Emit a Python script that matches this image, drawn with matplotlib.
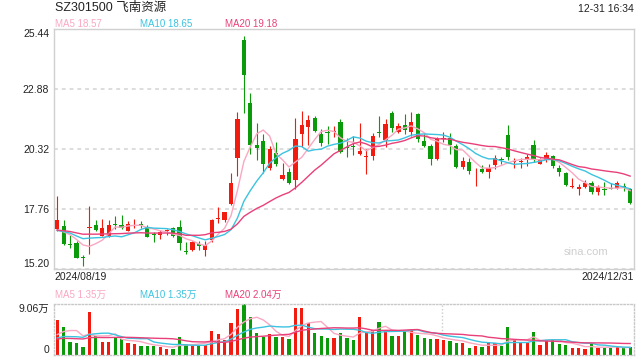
import numpy as np
import pandas as pd
import matplotlib
matplotlib.use("Agg")
import matplotlib.pyplot as plt

plt.rcParams["font.family"] = ["Liberation Sans", "Noto Sans CJK SC"]

# daily OHLC, 2024/08/19 .. 2024/12/31
opens = [16.91, 17.04, 16.27, 16.31, 15.70, 16.96, 17.08, 16.62, 16.59, 17.12,
         17.06, 16.84, 17.06, 17.11, 17.01, 16.69, 16.67, 16.81, 16.94, 16.99,
         15.97, 16.03, 16.27, 16.03, 16.42, 17.33, 17.29, 17.97, 19.95, 24.97,
         22.28, 20.49, 20.66, 19.52, 20.15, 19.04, 19.32, 19.01, 20.97, 21.26,
         21.63, 20.95, 21.05, 21.05, 21.48, 20.42, 20.45, 20.12, 19.99, 20.04,
         21.05, 20.72, 21.86, 21.06, 21.34, 21.03, 21.81, 20.66, 20.45, 19.89,
         20.75, 20.78, 20.43, 19.55, 19.78, 19.41, 19.47, 19.35, 19.63, 19.90,
         20.90, 19.76, 19.76, 19.89, 20.49, 19.70, 19.86, 20.02, 19.50, 19.29,
         18.72, 18.62, 18.70, 18.88, 18.48, 18.61, 18.65, 18.67, 18.74, 18.60]
highs = [18.30, 17.29, 16.65, 16.41, 15.80, 17.90, 17.31, 17.33, 17.28, 17.45,
         17.50, 17.26, 17.33, 17.25, 17.08, 16.76, 16.86, 16.91, 16.98, 17.31,
         16.34, 16.41, 16.41, 16.38, 17.33, 17.86, 17.65, 19.30, 21.91, 25.16,
         22.71, 21.44, 20.95, 20.43, 20.60, 19.72, 19.50, 21.66, 21.96, 21.77,
         21.71, 21.17, 21.29, 21.29, 21.60, 20.77, 20.89, 21.43, 20.32, 21.00,
         21.71, 21.60, 21.94, 21.43, 21.81, 21.88, 21.84, 20.96, 20.53, 20.82,
         21.06, 21.00, 20.52, 19.96, 19.94, 19.51, 19.64, 19.68, 20.06, 19.96,
         21.33, 19.92, 19.92, 20.11, 20.71, 19.92, 20.21, 20.06, 19.65, 19.36,
         19.07, 18.81, 18.98, 18.97, 18.77, 18.91, 18.85, 18.95, 18.88, 18.65]
lows = [16.84, 16.24, 16.11, 15.66, 15.34, 15.84, 16.81, 16.59, 16.57, 16.91,
        16.91, 16.81, 16.94, 16.96, 16.55, 16.37, 16.48, 16.65, 16.57, 16.01,
        15.83, 15.95, 16.03, 15.77, 16.37, 17.16, 17.19, 17.93, 19.18, 21.86,
        20.11, 19.87, 19.30, 19.44, 19.58, 18.98, 18.81, 18.61, 20.39, 20.49,
        21.03, 20.46, 20.53, 20.82, 20.15, 19.99, 20.06, 20.06, 19.25, 19.87,
        20.82, 20.39, 21.06, 21.00, 20.96, 20.89, 20.63, 20.39, 19.65, 19.87,
        20.60, 20.09, 19.52, 19.47, 19.27, 18.76, 19.30, 19.07, 19.46, 19.67,
        19.86, 19.52, 19.49, 19.60, 19.75, 19.67, 19.77, 19.52, 19.17, 18.74,
        18.65, 18.36, 18.65, 18.42, 18.36, 18.36, 18.60, 18.62, 18.52, 17.98]
closes = [17.29, 16.27, 16.22, 15.68, 15.67, 16.99, 16.86, 16.95, 17.06, 17.09,
          16.95, 17.13, 17.09, 17.06, 16.58, 16.67, 16.76, 16.84, 16.59, 16.32,
          15.94, 16.34, 16.17, 16.22, 17.30, 17.38, 17.62, 18.87, 21.60, 23.49,
          20.49, 20.38, 19.69, 20.32, 19.68, 19.21, 18.87, 20.75, 21.34, 21.56,
          21.10, 20.58, 21.02, 21.07, 20.20, 20.36, 20.39, 20.25, 20.02, 20.87,
          21.02, 21.39, 21.23, 21.32, 21.13, 21.46, 20.75, 20.43, 19.89, 20.75,
          20.78, 20.49, 19.55, 19.82, 19.40, 19.44, 19.35, 19.51, 19.92, 19.87,
          19.99, 19.79, 19.79, 19.96, 19.86, 19.89, 20.06, 19.60, 19.34, 18.78,
          18.75, 18.70, 18.88, 18.48, 18.70, 18.58, 18.62, 18.85, 18.64, 18.02]
volumes = [61600, 48900, 23600, 21700, 14500, 76100, 33200, 23600, 23600, 32000,
           28400, 21700, 19900, 16300, 16300, 16300, 14500, 10900, 10900, 32600,
           19900, 16300, 18100, 18100, 43500, 38100, 27200, 56200, 81500, 90600,
           67000, 39900, 32600, 38100, 32600, 32600, 29000, 83400, 83400, 56200,
           39900, 34400, 30800, 30800, 39900, 30800, 27200, 67000, 41700, 44100,
           58000, 44100, 34400, 34400, 42900, 45300, 36200, 30800, 29000, 29000,
           27200, 25400, 21700, 21700, 12700, 16300, 14500, 21700, 20500, 16300,
           48900, 27200, 21700, 21700, 41700, 18100, 27200, 27200, 19900, 18100,
           12700, 12700, 10900, 20500, 12700, 12700, 12700, 14500, 12700, 14500]

# sessions before the window, only used to seed the moving averages
prior_closes = [16.80, 16.92, 16.85, 16.78, 16.95, 16.88, 16.82, 16.90, 16.97, 16.84,
                16.79, 16.86, 16.93, 16.81, 16.76, 16.70, 16.82, 16.68, 16.85]
prior_volumes = [25000, 28000, 31000, 24000, 27000, 26000, 29000, 23000, 27000, 26000,
                 22000, 26000, 24000, 25000, 24100, 21300, 14700, 21700, 61600]

# values shown in the legends of the original
price_ma_labels = ["MA5 18.57", "MA10 18.65", "MA20 19.18"]
vol_ma_labels = ["MA5 1.35万", "MA10 1.35万", "MA20 2.04万"]

date_labels = ["2024/08/19", "2024/12/31"]
price_ticks = [15.20, 17.76, 20.32, 22.88, 25.44]
vol_ticks = [0, 90600]
vol_tick_labels = ["0", "9.06万"]

RED = "#f21b10"
GREEN = "#0a9a0a"
C_MA5 = "#f9a8c2"
C_MA10 = "#3cc3e0"
C_MA20 = "#e9407a"
ma_colors = [C_MA5, C_MA10, C_MA20]

n = len(closes)
x = np.arange(n)
o = np.array(opens); h = np.array(highs); l = np.array(lows); c = np.array(closes)
v = np.array(volumes)
up = c >= o
colors = np.where(up, RED, GREEN)

k = len(prior_closes)
cs = pd.Series(prior_closes + closes)
vs = pd.Series(prior_volumes + volumes)
ma = {w: cs.rolling(w).mean().values[k:] for w in (5, 10, 20)}
vma = {w: vs.rolling(w).mean().values[k:] for w in (5, 10, 20)}

fig = plt.figure(figsize=(6.4, 3.6), dpi=100)
W, H = 640, 360

ax = fig.add_axes([54 / W, 1 - 269 / H, 580 / W, 240 / H])
axv = fig.add_axes([54 / W, 1 - 355 / H, 580 / W, 51 / H])

# candles
ax.vlines(x, l, h, colors=colors, linewidth=0.8, zorder=2)
body_lo = np.minimum(o, c)
body_h = np.maximum(np.abs(c - o), 0.035)
ax.bar(x, body_h, bottom=body_lo, width=0.66, color=colors, linewidth=0, zorder=3)

ax.plot(x, ma[5], color=C_MA5, lw=1.0, zorder=4)
ax.plot(x, ma[10], color=C_MA10, lw=1.0, zorder=4)
ax.plot(x, ma[20], color=C_MA20, lw=1.0, zorder=4)

ax.set_xlim(-0.5, 89.6)
ax.set_ylim(price_ticks[0], price_ticks[-1])
ax.set_yticks(price_ticks)
ax.set_yticklabels([f"{t:.2f}" for t in price_ticks])
ax.set_xticks([])
ax.tick_params(axis="y", length=0, pad=3.5, labelsize=7.5, labelcolor="#222222")
labels = ax.get_yticklabels()
labels[0].set_va("bottom")
labels[-1].set_va("top")
ax.yaxis.grid(True, color="#dddddd", linestyle=(0, (2, 2)), linewidth=1.4)
ax.set_axisbelow(True)
for s in ax.spines.values():
    s.set_color("#d0d0d0")
    s.set_linewidth(1.0)

ax.text(0.955, 0.07, "sina.com", transform=ax.transAxes, ha="right", va="center",
        fontsize=8, color="#cfcfcf")

# volume
axv.bar(x, v, width=0.5, color=colors, linewidth=0, zorder=2)
axv.plot(x, vma[5], color=C_MA5, lw=1.0, zorder=3)
axv.plot(x, vma[10], color=C_MA10, lw=1.0, zorder=3)
axv.plot(x, vma[20], color=C_MA20, lw=1.0, zorder=3)
axv.axvline(59.7, color="#cccccc", linestyle=(0, (1, 1.5)), linewidth=1.0, zorder=1)
axv.set_xlim(-0.5, 89.6)
axv.set_ylim(vol_ticks[0], vol_ticks[-1])
axv.set_yticks(vol_ticks)
axv.set_yticklabels(vol_tick_labels)
axv.set_xticks([])
axv.tick_params(axis="y", length=0, pad=3.5, labelsize=7.5, labelcolor="#222222")
vlabels = axv.get_yticklabels()
vlabels[0].set_va("bottom")
vlabels[-1].set_va("top")
for s in axv.spines.values():
    s.set_color("#c8c8c8")
    s.set_linestyle((0, (1, 1.5)))
    s.set_linewidth(1.0)


def ftext(px, py, s, **kw):
    fig.text(px / W, 1 - py / H, s, va="center", **kw)


ftext(55, 8, "SZ301500 飞南资源", fontsize=9, color="#222222")
ftext(634, 9, "12-31 16:34", fontsize=7.5, color="#222222", ha="right")

for px, lab, col in zip([55, 140, 225], price_ma_labels, ma_colors):
    ftext(px, 24, lab, fontsize=7, color=col)

ftext(54, 277, date_labels[0], fontsize=7.5, color="#222222")
ftext(634, 277, date_labels[1], fontsize=7.5, color="#222222", ha="right")

for px, lab, col in zip([55, 140, 225], vol_ma_labels, ma_colors):
    ftext(px, 295, lab, fontsize=7, color=col)

fig.savefig("out.png", dpi=100)
